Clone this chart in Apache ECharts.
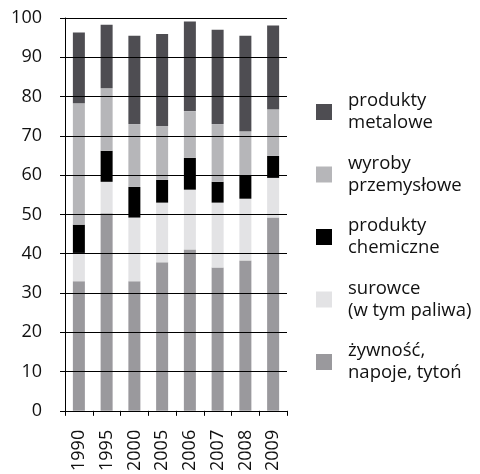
<!DOCTYPE html>
<html>
<head>
<meta charset="UTF-8">
<title>Struktura eksportu</title>
<script src="https://cdn.jsdelivr.net/npm/echarts@6/dist/echarts.min.js"></script>
<style>
	html, body { margin: 0; padding: 0; background: #fff; }
</style>
</head>
<body>
	<div id='chartContainer' style='width: 480px; height: 474px;'></div>
	<script>
	// dane (udział w %)
	var years = ['1990', '1995', '2000', '2005', '2006', '2007', '2008', '2009'];
	var zywnosc = [33.0, 50.3, 33.0, 37.8, 41.1, 36.5, 38.3, 49.2];
	var surowce = [7.2, 8.0, 16.2, 15.2, 15.2, 16.5, 15.7, 10.1];
	var chemiczne = [7.2, 7.9, 7.8, 5.8, 8.1, 5.3, 5.9, 5.6];
	var wyroby = [30.9, 15.9, 16.0, 13.7, 11.9, 14.7, 11.3, 11.9];
	var metalowe = [18.0, 16.2, 22.5, 23.4, 22.8, 24.0, 24.3, 21.3];
	var yTicks = [0, 10, 20, 30, 40, 50, 60, 70, 80, 90, 100];

	var names = ['żywność, napoje, tytoń', 'surowce (w tym paliwa)', 'produkty chemiczne', 'wyroby przemysłowe', 'produkty metalowe'];
	var legendText = {
		'produkty metalowe': 'produkty\nmetalowe',
		'wyroby przemysłowe': 'wyroby\nprzemysłowe',
		'produkty chemiczne': 'produkty\nchemiczne',
		'surowce (w tym paliwa)': 'surowce\n(w tym paliwa)',
		'żywność, napoje, tytoń': 'żywność,\nnapoje, tytoń'
	};
	var colors = ['#9a999d', '#e3e3e5', '#000000', '#b6b6b9', '#4e4d52'];
	var values = [zywnosc, surowce, chemiczne, wyroby, metalowe];

	var chart = echarts.init(document.getElementById('chartContainer'));

	var series = [];
	for (var i = 0; i < names.length; i++) {
		series.push({
			name: names[i],
			type: 'bar',
			stack: 'total',
			data: values[i],
			barWidth: 12,
			itemStyle: { color: colors[i] }
		});
	}

	var option = {
		animation: false,
		textStyle: { fontFamily: 'Open Sans' },
		grid: {
			left: 65,
			right: 193,
			top: 18,
			bottom: 60
		},
		legend: {
			orient: 'vertical',
			left: 311,
			top: 85,
			itemWidth: 16,
			itemHeight: 16,
			itemGap: 18.5,
			icon: 'rect',
			data: names.slice().reverse(),
			formatter: function (name) { return legendText[name]; },
			textStyle: {
				fontFamily: 'Open Sans',
				fontSize: 18.5,
				lineHeight: 22,
				color: '#111',
				padding: [0, 0, 0, 11]
			}
		},
		xAxis: {
			type: 'category',
			data: years,
			axisLine: { lineStyle: { color: '#000', width: 1 } },
			axisTick: { show: true, length: 5, lineStyle: { color: '#000' } },
			axisLabel: {
				rotate: 90,
				margin: 19,
				fontSize: 18,
				color: '#111',
				fontFamily: 'Open Sans'
			}
		},
		yAxis: {
			type: 'value',
			min: yTicks[0],
			max: yTicks[yTicks.length - 1],
			interval: yTicks[1] - yTicks[0],
			z: 5,
			axisLine: { show: true, lineStyle: { color: '#000', width: 1 } },
			axisTick: { show: true, length: 5, lineStyle: { color: '#000' } },
			splitLine: { show: true, lineStyle: { color: '#000', width: 1 } },
			axisLabel: {
				margin: 23,
				fontSize: 18,
				color: '#111',
				fontFamily: 'Open Sans'
			}
		},
		series: series
	};

	chart.setOption(option);
	</script>
</body>
</html>
